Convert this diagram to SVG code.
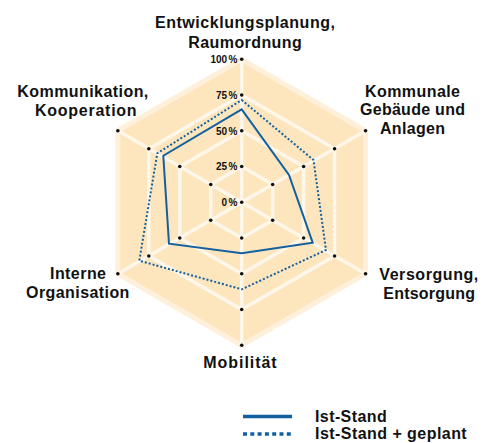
<svg xmlns="http://www.w3.org/2000/svg" width="490" height="443" viewBox="0 0 490 443">
<style>
.lbl{font-family:"Liberation Sans",Arial,sans-serif;font-weight:bold;font-size:16px;fill:#111;text-anchor:middle}
.leg{font-family:"Liberation Sans",Arial,sans-serif;font-weight:bold;font-size:16px;fill:#111}
.pct{font-family:"Liberation Sans",Arial,sans-serif;font-weight:bold;font-size:10px;fill:#111;text-anchor:end}
.grid{fill:none;stroke:#FFF7EA;stroke-width:3.5;stroke-linejoin:miter}
.ist{fill:none;stroke:#1360A0;stroke-width:2;stroke-linejoin:miter}
.plan{fill:none;stroke:#1360A0;stroke-width:2;stroke-dasharray:2 2}
.dot{fill:#111}
</style>
<g id="background">
<polygon points="241.7,59.3 365.54,130.8 365.54,273.8 241.7,345.3 117.86,273.8 117.86,130.8" fill="#FDE6BE" stroke="#FEF0DA" stroke-width="5" stroke-linejoin="miter"/>
<polygon class="grid" points="241.7,95.05 334.58,148.675 334.58,255.925 241.7,309.55 148.82,255.925 148.82,148.675"/>
<polygon class="grid" points="241.7,130.8 303.62,166.55 303.62,238.05 241.7,273.8 179.78,238.05 179.78,166.55"/>
<polygon class="grid" points="241.7,166.55 272.66,184.425 272.66,220.175 241.7,238.05 210.74,220.175 210.74,184.425"/>
<path class="grid" d="M241.7,202.3L241.7,59.3M241.7,202.3L365.54,130.8M241.7,202.3L365.54,273.8M241.7,202.3L241.7,345.3M241.7,202.3L117.86,273.8M241.7,202.3L117.86,130.8"/>
</g>
<g id="connectors">
<polygon id="ist-stand" class="ist" points="241.7,109.3 289,175 312.7,242.7 241.7,253.3 169,243.7 163.3,155.7"/>
<polygon id="ist-stand-geplant" class="plan" points="241.7,100 313.5,160 326,250 241.7,289.3 139.3,260.7 157.3,153.3"/>
</g>
<g id="dots">
<circle class="dot" cx="241.7" cy="202.3" r="1.8"/>
<circle class="dot" cx="241.7" cy="59.3" r="1.8"/><circle class="dot" cx="365.54" cy="130.8" r="1.8"/><circle class="dot" cx="365.54" cy="273.8" r="1.8"/><circle class="dot" cx="241.7" cy="345.3" r="1.8"/><circle class="dot" cx="117.86" cy="273.8" r="1.8"/><circle class="dot" cx="117.86" cy="130.8" r="1.8"/>
<circle class="dot" cx="241.7" cy="95.05" r="1.8"/><circle class="dot" cx="334.58" cy="148.675" r="1.8"/><circle class="dot" cx="334.58" cy="255.925" r="1.8"/><circle class="dot" cx="241.7" cy="309.55" r="1.8"/><circle class="dot" cx="148.82" cy="255.925" r="1.8"/><circle class="dot" cx="148.82" cy="148.675" r="1.8"/>
<circle class="dot" cx="241.7" cy="130.8" r="1.8"/><circle class="dot" cx="303.62" cy="166.55" r="1.8"/><circle class="dot" cx="303.62" cy="238.05" r="1.8"/><circle class="dot" cx="241.7" cy="273.8" r="1.8"/><circle class="dot" cx="179.78" cy="238.05" r="1.8"/><circle class="dot" cx="179.78" cy="166.55" r="1.8"/>
<circle class="dot" cx="241.7" cy="166.55" r="1.8"/><circle class="dot" cx="272.66" cy="184.425" r="1.8"/><circle class="dot" cx="272.66" cy="220.175" r="1.8"/><circle class="dot" cx="241.7" cy="238.05" r="1.8"/><circle class="dot" cx="210.74" cy="220.175" r="1.8"/><circle class="dot" cx="210.74" cy="184.425" r="1.8"/>
</g>
<g id="scale">
<text class="pct" x="237.5" y="63.3">100<tspan dx="1.5">%</tspan></text>
<text class="pct" x="237.5" y="98.8">75<tspan dx="1.5">%</tspan></text>
<text class="pct" x="237.5" y="134.5">50<tspan dx="1.5">%</tspan></text>
<text class="pct" x="237.5" y="170.2">25<tspan dx="1.5">%</tspan></text>
<text class="pct" x="237.5" y="206">0<tspan dx="1.5">%</tspan></text>
</g>
<g id="node-entwicklung">
<text class="lbl" x="245" y="28" textLength="180" lengthAdjust="spacing">Entwicklungsplanung,</text>
<text class="lbl" x="245" y="47.5" textLength="113.4" lengthAdjust="spacing">Raumordnung</text>
</g>
<g id="node-kommunale">
<text class="lbl" x="412.5" y="96.7" textLength="95" lengthAdjust="spacing">Kommunale</text>
<text class="lbl" x="412.5" y="115.3" textLength="105" lengthAdjust="spacing">Gebäude und</text>
<text class="lbl" x="412.5" y="134" textLength="65" lengthAdjust="spacing">Anlagen</text>
</g>
<g id="node-versorgung">
<text class="lbl" x="428.8" y="280" textLength="99" lengthAdjust="spacing">Versorgung,</text>
<text class="lbl" x="429.2" y="298.5" textLength="91.7" lengthAdjust="spacing">Entsorgung</text>
</g>
<g id="node-mobilitaet">
<text class="lbl" x="240" y="368.3" textLength="73.4" lengthAdjust="spacing">Mobilität</text>
</g>
<g id="node-interne">
<text class="lbl" x="78" y="279" textLength="56" lengthAdjust="spacing">Interne</text>
<text class="lbl" x="77.7" y="298" textLength="103.3" lengthAdjust="spacing">Organisation</text>
</g>
<g id="node-kommunikation">
<text class="lbl" x="82.8" y="96.5" textLength="131" lengthAdjust="spacing">Kommunikation,</text>
<text class="lbl" x="85.8" y="115.5" textLength="101.7" lengthAdjust="spacing">Kooperation</text>
</g>
<g id="legend">
<line x1="243" y1="416.5" x2="292" y2="416.5" stroke="#1360A0" stroke-width="3.5"/>
<line x1="243" y1="434" x2="292" y2="434" stroke="#1360A0" stroke-width="3.5" stroke-dasharray="4 3.3"/>
<text class="leg" x="315" y="421.5" textLength="71.7" lengthAdjust="spacing">Ist-Stand</text>
<text class="leg" x="315" y="439" textLength="151.7" lengthAdjust="spacing">Ist-Stand + geplant</text>
</g>
</svg>
